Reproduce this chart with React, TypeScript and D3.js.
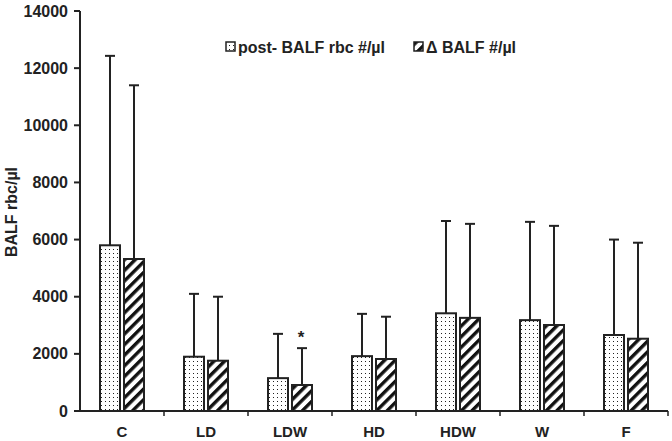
import React from "react";
import * as d3 from "d3";

const categories = ["C", "LD", "LDW", "HD", "HDW", "W", "F"];
const postMean = [5800, 1900, 1150, 1920, 3420, 3180, 2660];
const postErr = [12430, 4100, 2700, 3400, 6650, 6620, 6000];
const deltaMean = [5320, 1760, 910, 1820, 3260, 3010, 2530];
const deltaErr = [11400, 4000, 2200, 3300, 6550, 6480, 5890];
const yTicks = [0, 2000, 4000, 6000, 8000, 10000, 12000, 14000];
const seriesNames = ["post- BALF rbc #/µl", "Δ BALF #/µl"];
const starCategory = "LDW";

const W = 672, H = 441;
const left = 80, right = 668, top = 11, bottom = 411;
const font = "Liberation Sans, Arial, sans-serif";

export default function App() {
  const x = d3.scaleBand<string>().domain(categories).range([left, right]);
  const y = d3.scaleLinear().domain([0, 14000]).range([bottom, top]);
  const bw = 20;
  const series = [
    { mean: postMean, err: postErr, fill: "url(#dots)", off: -22 },
    { mean: deltaMean, err: deltaErr, fill: "url(#hatch)", off: 2 },
  ];
  const si = categories.indexOf(starCategory);
  return (
    <svg width={W} height={H} style={{ position: "absolute", left: 0, top: 0 }} fontFamily={font}>
      <defs>
        <pattern id="dots" width="4" height="4" patternUnits="userSpaceOnUse">
          <rect width="4" height="4" fill="white" />
          <rect x="1" y="1" width="1" height="1" fill="#222" />
        </pattern>
        <pattern id="hatch" width="7.5" height="7.5" patternUnits="userSpaceOnUse" patternTransform="rotate(45)">
          <rect width="7.5" height="7.5" fill="white" />
          <rect x="0" y="0" width="3.4" height="7.5" fill="#111" />
        </pattern>
      </defs>
      <rect width={W} height={H} fill="white" />
      {series.map((s, k) =>
        categories.map((c, i) => {
          const x0 = (x(c) as number) + x.bandwidth() / 2 + s.off;
          const cx = x0 + bw / 2;
          return (
            <g key={k + c}>
              <line x1={cx} x2={cx} y1={y(s.mean[i])} y2={y(s.err[i])} stroke="#222" strokeWidth={2} />
              <line x1={cx - 5} x2={cx + 5} y1={y(s.err[i])} y2={y(s.err[i])} stroke="#222" strokeWidth={2} />
              <rect x={x0} y={y(s.mean[i])} width={bw} height={bottom - y(s.mean[i])} fill={s.fill} stroke="#222" strokeWidth={2} />
            </g>
          );
        })
      )}
      <text x={(x(starCategory) as number) + x.bandwidth() / 2 + 11} y={y(deltaErr[si]) - 5} textAnchor="middle" fontSize={17} fontWeight="bold" fill="#222">*</text>
      <line x1={left} x2={left} y1={top} y2={bottom} stroke="#222" strokeWidth={2} />
      <line x1={left - 6} x2={right} y1={bottom} y2={bottom} stroke="#222" strokeWidth={2} />
      {yTicks.map((t) => (
        <g key={t}>
          <line x1={left - 6} x2={left} y1={y(t)} y2={y(t)} stroke="#222" strokeWidth={2} />
          <text x={left - 12} y={y(t)} dy="0.35em" textAnchor="end" fontSize={16} fontWeight="bold" fill="#222">{t}</text>
        </g>
      ))}
      {categories.map((c) => (
        <g key={c}>
          <line x1={(x(c) as number) + x.bandwidth()} x2={(x(c) as number) + x.bandwidth()} y1={bottom} y2={bottom + 5} stroke="#222" strokeWidth={1.5} />
          <text x={(x(c) as number) + x.bandwidth() / 2} y={437} textAnchor="middle" fontSize={15} fontWeight="bold" fill="#222">{c}</text>
        </g>
      ))}
      <text transform={`translate(17,${212}) rotate(-90)`} textAnchor="middle" fontSize={16} fontWeight="bold" fill="#222">BALF rbc/µl</text>
      <g>
        <rect x={226} y={42} width={9} height={9} fill="url(#dots)" stroke="#222" strokeWidth={1.5} />
        <text x={238} y={53} fontSize={16} fontWeight="bold" fill="#222">{seriesNames[0]}</text>
        <rect x={414} y={42} width={9} height={9} fill="url(#hatch)" stroke="#222" strokeWidth={1.5} />
        <text x={426} y={53} fontSize={16} fontWeight="bold" fill="#222">{seriesNames[1]}</text>
      </g>
    </svg>
  );
}
